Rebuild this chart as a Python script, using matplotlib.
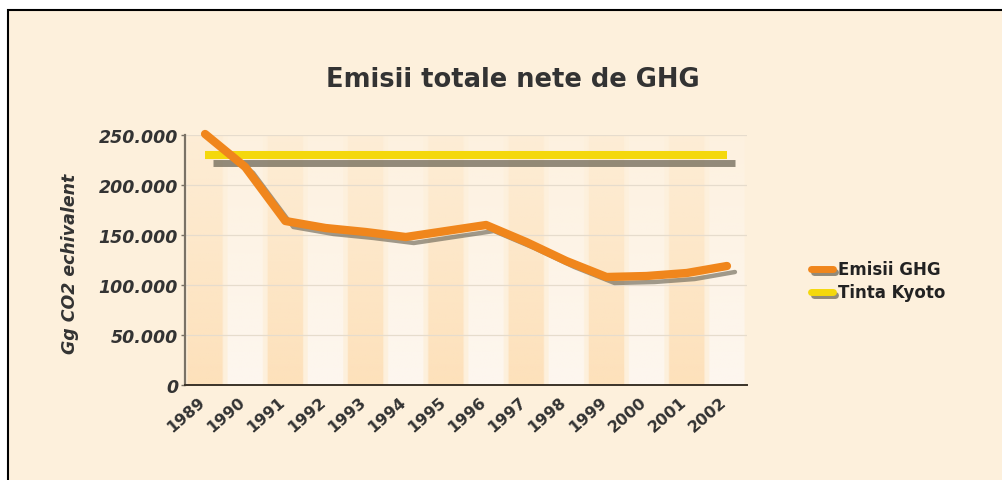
import matplotlib
matplotlib.use("Agg")
import matplotlib.pyplot as plt
import matplotlib.patheffects as pe
from matplotlib.patches import Rectangle
from matplotlib.lines import Line2D
from matplotlib.transforms import ScaledTranslation
from matplotlib.colors import to_rgb
import numpy as np

plt.rcParams['font.family'] = ['DejaVu Sans']

# datele graficului
ani = ['1989', '1990', '1991', '1992', '1993', '1994', '1995',
       '1996', '1997', '1998', '1999', '2000', '2001', '2002']
emisii_ghg = [251000, 218000, 164000, 157000, 153000, 148000, 154000,
              160000, 143000, 124000, 108000, 109000, 112000, 119000]
tinta_kyoto = [230000] * len(ani)
y_ticks = [0, 50000, 100000, 150000, 200000, 250000]
y_labels = ['0', '50.000', '100.000', '150.000', '200.000', '250.000']

fundal = '#fdf0dc'
portocaliu = '#f0861c'
galben = '#f4d80c'
umbra = '#6f6858'
text_c = '#333333'

fig = plt.figure(figsize=(10.03, 4.81), dpi=100)
fig.patch.set_facecolor('white')

# chenarul negru si fundalul crem
fig.patches.append(Rectangle((8 / 1003, -0.05), 1.0, 1 - 11 / 481 + 0.05,
                             transform=fig.transFigure, facecolor=fundal,
                             edgecolor='black', linewidth=1.5, zorder=-5))

ax = fig.add_axes([185 / 1003, 1 - 386 / 481, 562 / 1003, 250 / 481])
ax.set_facecolor(fundal)

x = np.arange(len(ani))

# coloane alternante in fundal, cu degrade pe verticala
n = len(ani)
sub = 20
inalt = 60
img = np.zeros((inalt, n * sub, 4))
img[:, :, :3] = to_rgb(fundal)
alfa = np.linspace(0.2, 1.0, inalt)[:, None]
for i in range(n):
    c = to_rgb('#fde1bb') if i % 2 == 0 else to_rgb('#fef7ef')
    img[:, i * sub + 1:(i + 1) * sub - 1, :3] = c
    img[:, i * sub + 1:(i + 1) * sub - 1, 3] = alfa
ax.imshow(img, extent=(-0.5, n - 0.5, 0, y_ticks[-1]), aspect='auto',
          origin='upper', zorder=0, interpolation='bilinear')

for v in y_ticks[1:]:
    ax.axhline(v, color='#e6dccd', lw=0.9, zorder=1)

# umbrele liniilor
umbra_g = ax.transData + ScaledTranslation(8 / 100, -8 / 100, fig.dpi_scale_trans)
umbra_p = ax.transData + ScaledTranslation(8 / 100, -6 / 100, fig.dpi_scale_trans)
ax.plot(x, tinta_kyoto, color=umbra, alpha=0.75, lw=5, transform=umbra_g,
        solid_capstyle='butt', zorder=2, clip_on=False)
ax.plot(x, tinta_kyoto, color=galben, lw=5.8, solid_capstyle='butt',
        zorder=3, clip_on=False)
ax.plot(x, emisii_ghg, color=umbra, alpha=0.65, lw=3.2, transform=umbra_p,
        solid_capstyle='round', solid_joinstyle='round', zorder=3.5, clip_on=False)
ax.plot(x, emisii_ghg, color=portocaliu, lw=6, solid_capstyle='round',
        solid_joinstyle='round', zorder=4, clip_on=False)

ax.set_xlim(-0.5, n - 0.5)
ax.set_ylim(0, y_ticks[-1])

ax.set_yticks(y_ticks)
ax.set_yticklabels(y_labels, fontsize=12.5, fontweight='bold',
                   fontstyle='italic', color=text_c)
ax.set_xticks(x)
ax.set_xticklabels(ani, fontsize=11.5, fontweight='bold', color=text_c,
                   rotation=41, ha='right', rotation_mode='anchor')
ax.tick_params(axis='y', length=3, width=1, color='#777066', pad=2)
ax.tick_params(axis='x', length=0, pad=6)
# etichetele anilor putin spre stanga
for et in ax.get_xticklabels():
    et.set_transform(et.get_transform() +
                     ScaledTranslation(-7 / 100, 0, fig.dpi_scale_trans))

for s in ['top', 'right']:
    ax.spines[s].set_visible(False)
ax.spines['left'].set_color('#7a7266')
ax.spines['left'].set_linewidth(1.6)
ax.spines['bottom'].set_color('#3a3228')
ax.spines['bottom'].set_linewidth(1.4)

ax.set_ylabel('Gg CO2 echivalent', fontsize=12.5, fontweight='bold',
              fontstyle='italic', color=text_c)
ax.yaxis.set_label_coords(-0.188, 0.49)

fig.text(0.511, 1 - 80 / 481, 'Emisii totale nete de GHG', fontsize=18.5,
         fontweight='bold', color=text_c, ha='center', va='center')

# legenda, cu umbra mica
umbra_leg = [pe.SimpleLineShadow(offset=(2, -2.5), shadow_color=umbra, alpha=0.75),
             pe.Normal()]
h_leg = [Line2D([], [], color=portocaliu, lw=5, solid_capstyle='round',
                path_effects=umbra_leg),
         Line2D([], [], color=galben, lw=5, solid_capstyle='round',
                path_effects=umbra_leg)]
leg = fig.legend(h_leg, ['Emisii GHG', 'Tinta Kyoto'], loc='center left',
                 bbox_to_anchor=(796 / 1003, 1 - 282 / 481), frameon=False,
                 prop={'size': 12, 'weight': 'bold'}, handlelength=1.3,
                 handletextpad=0.3, labelspacing=0.3)
for t in leg.get_texts():
    t.set_color('#222222')

fig.savefig('out.png', dpi=100, facecolor=fig.get_facecolor())
